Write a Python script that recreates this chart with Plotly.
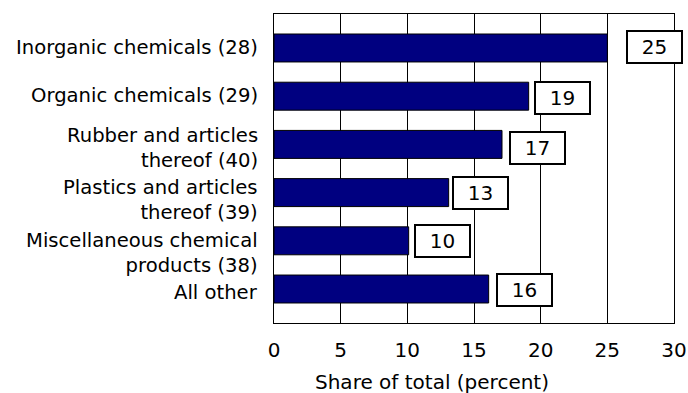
import plotly.graph_objects as go

categories = ["Inorganic chemicals (28)", "Organic chemicals (29)",
              "Rubber and articles<br>thereof (40)", "Plastics and articles<br>thereof (39)",
              "Miscellaneous chemical<br>products (38)", "All other"]
values = [25.0, 19.1, 17.1, 13.1, 10.1, 16.1]
labels = ["25", "19", "17", "13", "10", "16"]
x_ticks = [0, 5, 10, 15, 20, 25, 30]

# layout tweaks (pixel offsets), kept apart from the data
box_dx = [47, 34, 35, 32, 34, 36]
box_dy = [1, -1.5, -4, 0, 0, -1]
cat_dy = [0, 1, -3.5, -7, -12.5, -3]

FONT = "DejaVu Sans"
L, R, T, B = 274, 674, 14, 323  # plot box in window pixels
W, H = 688, 393

fig = go.Figure()
fig.add_trace(go.Bar(
    x=values, y=categories, orientation="h",
    marker=dict(color="#000080", line=dict(color="black", width=1)),
    width=0.58, hoverinfo="skip",
))

for v, c, t, dx, dy in zip(values, categories, labels, box_dx, box_dy):
    fig.add_annotation(
        x=v, y=c, xref="x", yref="y", text=t, showarrow=False,
        xanchor="center", xshift=dx, yshift=dy, width=49, height=26,
        bordercolor="black", borderwidth=2, borderpad=2, bgcolor="white",
        font=dict(family=FONT, size=20, color="black"),
    )

for c, dy in zip(categories, cat_dy):
    fig.add_annotation(
        x=0, y=c, xref="paper", yref="y", text=c, showarrow=False,
        xanchor="right", yanchor="middle", align="right", xshift=-14, yshift=dy,
        font=dict(family=FONT, size=19.6, color="black"),
    )

fig.add_annotation(
    x=(432 - L) / (R - L), y=-(382 - B) / (B - T), xref="paper", yref="paper",
    text="Share of total (percent)", showarrow=False,
    xanchor="center", yanchor="middle",
    font=dict(family=FONT, size=20, color="black"),
)

fig.update_layout(
    width=W, height=H,
    margin=dict(l=L, r=W - R, t=T, b=H - B, autoexpand=False),
    paper_bgcolor="white", plot_bgcolor="white",
    showlegend=False,
    font=dict(family=FONT, size=19, color="black"),
    xaxis=dict(range=[0, 30], tickvals=x_ticks, showgrid=True, gridcolor="black",
               gridwidth=1, showline=True, linecolor="black", linewidth=1, mirror=True,
               zeroline=False, ticks="", automargin=False, ticklabelstandoff=9,
               tickfont=dict(family=FONT, size=20, color="black")),
    yaxis=dict(autorange=False, range=[5.705, -0.705], showgrid=False,
               showline=True, linecolor="black", linewidth=1, mirror=True,
               ticks="", showticklabels=False, automargin=False),
)

fig.write_html("out.html", config={"displayModeBar": False},
               post_script="document.body.style.margin='0';document.body.style.overflow='hidden';")
